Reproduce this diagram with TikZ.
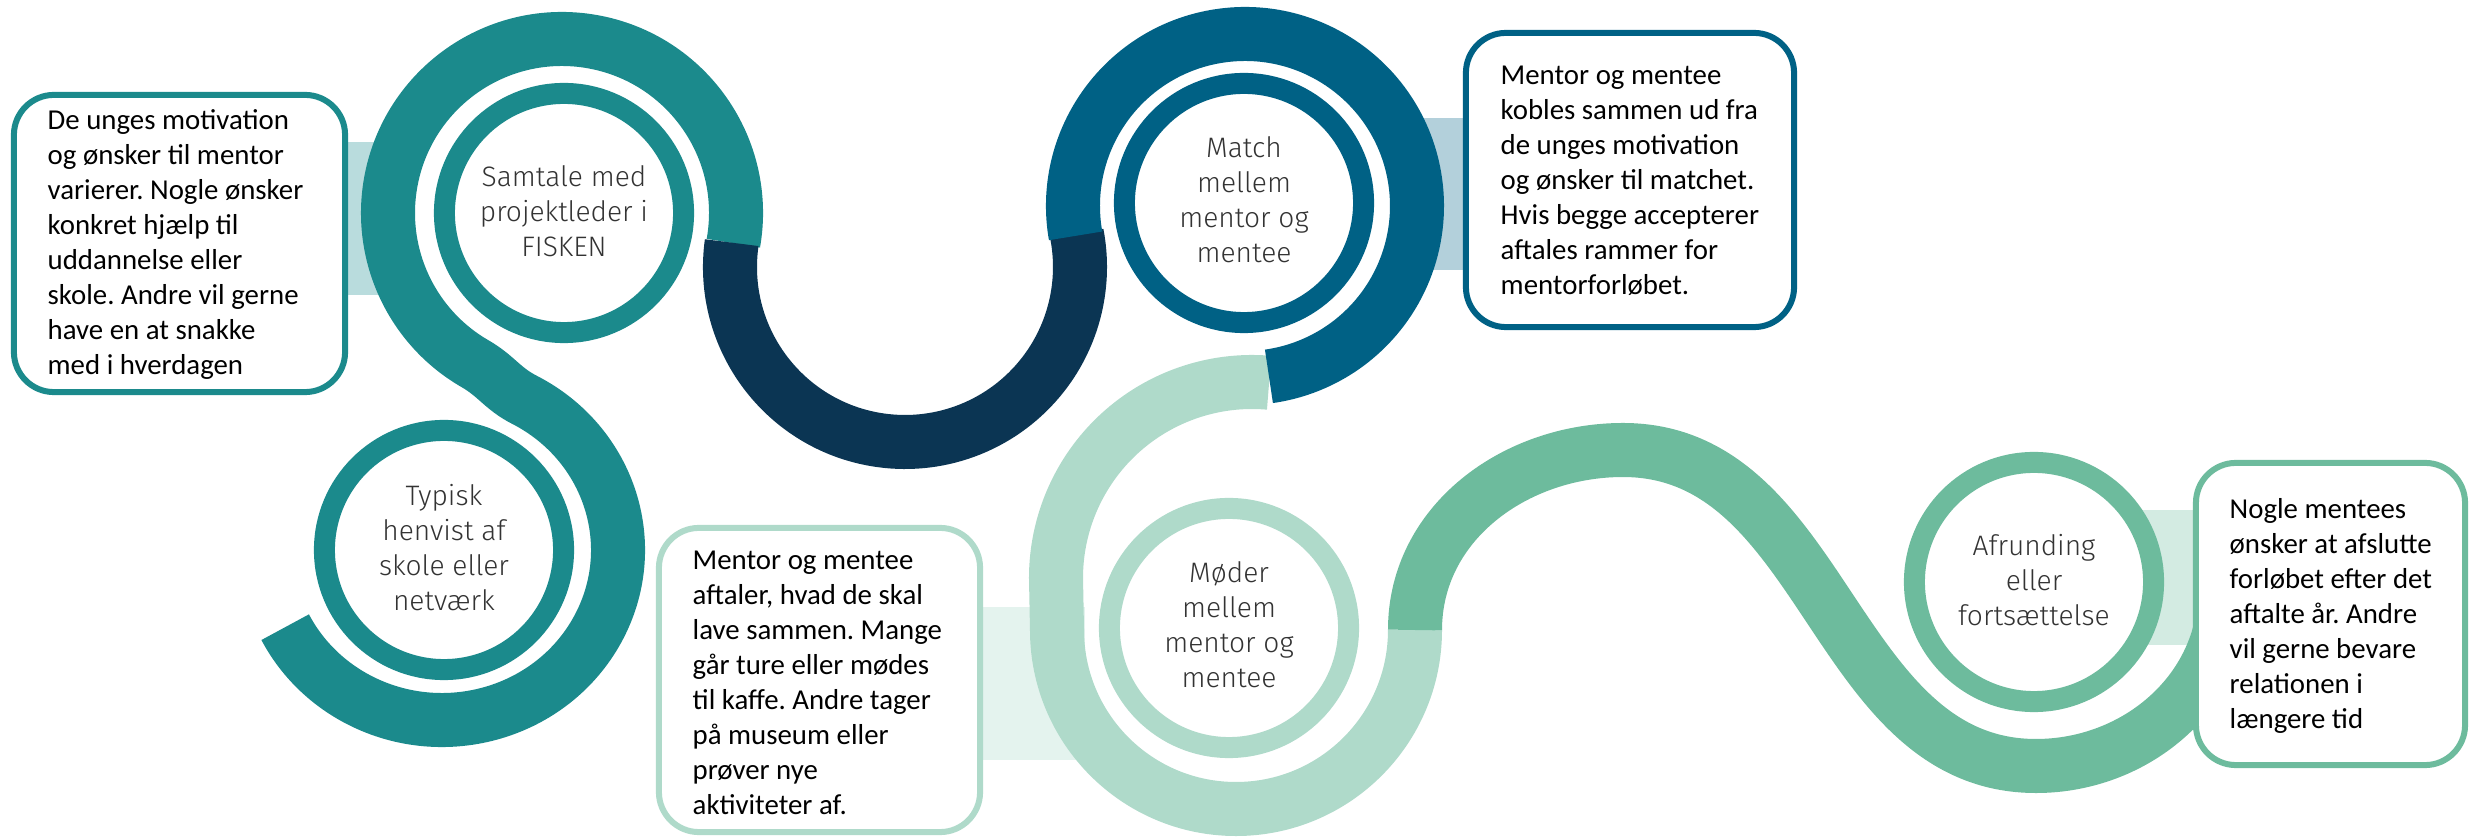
\documentclass[tikz,border=0pt]{standalone}
\usepackage{fontspec}
\setmainfont{Carlito}
\newfontfamily\ringfont{Fira Sans Light}
\usepackage{tikz}
\usetikzlibrary{positioning}
\frenchspacing
\definecolor{tealc}{HTML}{1B8A8C}
\definecolor{navyc}{HTML}{0B3553}
\definecolor{bluec}{HTML}{006185}
\definecolor{lgreen}{HTML}{AFDACA}
\definecolor{mgreen}{HTML}{6DBB9D}
\definecolor{link1}{HTML}{B9DCDD}
\definecolor{link2}{HTML}{B3D0DB}
\definecolor{link3}{HTML}{E4F3EE}
\definecolor{link4}{HTML}{D3EBE2}
\definecolor{ringgray}{HTML}{333333}
\tikzset{
	band/.style={line width=0.54cm}, % the thick winding road
	ring/.style={circle, draw=#1, line width=0.21cm, fill=white, minimum size=2.39cm, inner sep=0pt}, % small ring round each step
	ringtext/.style={font=\ringfont\fontsize{8pt}{9.96pt}\selectfont, text=ringgray, align=center, anchor=base, inner sep=0pt}, % step title, placed by its last line
	box/.style={draw=#1, line width=0.06cm, fill=white, rounded corners=0.4cm, inner sep=0pt}, % text box
	boxtext/.style={font=\fontsize{8.2pt}{9.96pt}\selectfont, align=left, anchor=base west, inner sep=0pt}, % text in the box, placed by its last line
}
\begin{document}
\begin{tikzpicture}[x=0.01cm, y=0.01cm]
	\useasboundingbox (0,0) rectangle (2471,-837);
	% links between boxes and rings
	\fill[link1] (340,-142) rectangle (400,-295);
	\fill[link2] (1400,-118) rectangle (1470,-270);
	\fill[link3] (975,-607) rectangle (1085,-760);
	\fill[link4] (2100,-510) rectangle (2200,-645);
	% road
	\draw[band, tealc] ([shift={(562,-213)}]-10:174) arc[start angle=-10, end angle=240, radius=174]
		.. controls (496.7,-376.2) and (502.4,-388.6) .. ([shift={(442,-550)}]62:176 and 170)
		arc[start angle=62, end angle=-153, x radius=176, y radius=170];
	\draw[band, navyc] ([shift={(905,-267)}]172:175) arc[start angle=172, end angle=371, radius=175];
	\draw[band, lgreen] ([shift={(1252,-578)}]85:196) arc[start angle=85, end angle=180, radius=196]
		-- (1057,-630) arc[start angle=180, end angle=360, radius=179];
	\draw[band, bluec] ([shift={(1245,-206)}]190:172) arc[start angle=190, end angle=-82, radius=172];
	\draw[band, mgreen] (1415,-630) to[out=90, in=180] (1623,-450) to[out=0, in=180] (2036,-766)
		to[out=0, in=-90] (2225,-590);
	% rings
	\node[ring=tealc] (r1) at (564,-213) {};
	\node[ring=tealc] (r2) at (444,-550) {};
	\node[ring=bluec] (r3) at (1244,-203) {};
	\node[ring=lgreen] (r4) at (1229,-628) {};
	\node[ring=mgreen] (r5) at (2034,-582) {};
	\node[ringtext] (l1) at (564,-257) {Samtale med\\projektleder i\\FISKEN};
	\node[ringtext] (l2) at (444,-611) {Typisk\\henvist af\\skole eller\\netværk};
	\node[ringtext] (l3) at (1244,-263) {Match\\mellem\\mentor og\\mentee};
	\node[ringtext] (l4) at (1229,-688) {Møder\\mellem\\mentor og\\mentee};
	\node[ringtext] (l5) at (2034,-626) {Afrunding\\eller\\fortsættelse};
	% boxes
	\node[box=tealc, minimum width=3.31cm, minimum height=2.97cm] (b1) at (179.5,-243.5) {};
	\node[box=bluec, minimum width=3.28cm, minimum height=2.94cm] (b2) at (1630,-180) {};
	\node[box=lgreen, minimum width=3.21cm, minimum height=3.04cm] (b3) at (819.5,-680) {};
	\node[box=mgreen, minimum width=2.69cm, minimum height=3.02cm] (b4) at (2330.5,-614) {};
	\node[boxtext] (t1) at (47,-375) {De unges motivation\\og ønsker til mentor\\varierer. Nogle ønsker\\konkret hjælp til\\uddannelse eller\\skole. Andre vil gerne\\have en at snakke\\med i hverdagen};
	\node[boxtext] (t2) at (1500,-295) {Mentor og mentee\\kobles sammen ud fra\\de unges motivation\\og ønsker til matchet.\\Hvis begge accepterer\\aftales rammer for\\mentorforløbet.};
	\node[boxtext] (t3) at (692,-815) {Mentor og mentee\\aftaler, hvad de skal\\lave sammen. Mange\\går ture eller mødes\\til kaffe. Andre tager\\på museum eller\\prøver nye\\aktiviteter af.};
	\node[boxtext] (t4) at (2229,-729) {Nogle mentees\\ønsker at afslutte\\forløbet efter det\\aftalte år. Andre\\vil gerne bevare\\relationen i\\længere tid};
\end{tikzpicture}
\end{document}
